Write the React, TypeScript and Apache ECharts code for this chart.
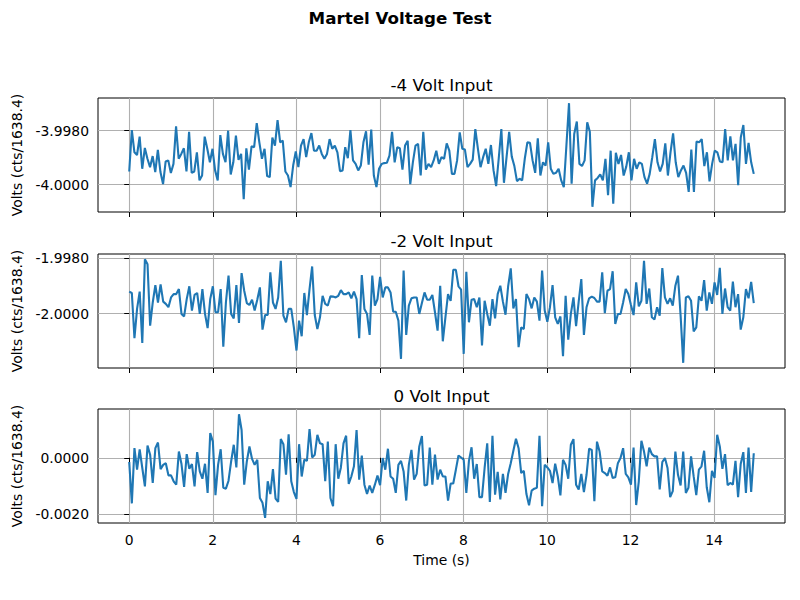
import React, { useEffect, useRef } from "react";
import * as echarts from "echarts";

// ---- data ----
const TIME_END = 14.95; // seconds, last sample
const X_TICKS = [0, 2, 4, 6, 8, 10, 12, 14];
const TITLES = ["-4 Volt Input", "-2 Volt Input", "0 Volt Input"];
const Y_TICKS_NEG4 = [-4.0, -3.998];
const Y_TICKS_NEG2 = [-2.0, -1.998];
const Y_TICKS_ZERO = [-0.002, 0.0];

const VOLTS_NEG4 = [
  -3.99951,-3.99798,-3.99880,-3.99890,-3.99822,-3.99941,-3.99864,-3.99904,-3.99935,-3.99894,
  -3.99953,-3.99871,-3.99953,-3.99998,-3.99914,-3.99910,-3.99957,-3.99923,-3.99784,-3.99904,
  -3.99886,-3.99865,-3.99951,-3.99804,-3.99956,-3.99951,-3.99880,-3.99984,-3.99966,-3.99822,
  -3.99867,-3.99917,-3.99867,-3.99947,-3.99984,-3.99816,-3.99886,-3.99917,-3.99800,-3.99962,
  -3.99917,-3.99818,-3.99908,-3.99886,-4.00054,-3.99865,-3.99944,-3.99858,-3.99861,-3.99772,
  -3.99843,-3.99904,-3.99867,-3.99968,-3.99972,-3.99825,-3.99855,-3.99761,-3.99843,-3.99837,
  -3.99951,-3.99966,-4.00009,-3.99929,-3.99877,-3.99935,-3.99855,-3.99831,-3.99898,-3.99843,
  -3.99809,-3.99874,-3.99874,-3.99855,-3.99886,-3.99904,-3.99886,-3.99831,-3.99867,
  -3.99855,-3.99880,-3.99950,-3.99947,-3.99861,-3.99902,-3.99798,-3.99910,-3.99923,-3.99947,
  -3.99929,-3.99843,-3.99802,-3.99926,-3.99796,-3.99966,-4.00009,-3.99941,-3.99923,-3.99920,
  -3.99919,-3.99892,-3.99804,-3.99917,-3.99861,-3.99865,-3.99944,-3.99855,-3.99837,-3.99998,
  -3.99917,-3.99855,-3.99849,-3.99966,-3.99804,-3.99944,-3.99923,-3.99935,-3.99910,-3.99874,
  -3.99923,-3.99898,-3.99904,-3.99847,-3.99874,-3.99960,-3.99960,-3.99910,-3.99806,-3.99867,
  -3.99870,-3.99935,-3.99923,-3.99907,-3.99794,-3.99867,-3.99935,-3.99898,-3.99867,-3.99923,
  -3.99853,-3.99947,-4.00005,-3.99902,-3.99794,-3.99993,-3.99898,-3.99804,-3.99896,-3.99931,
  -3.99987,-3.99978,-3.99984,-3.99904,-3.99843,-3.99845,-3.99910,-3.99956,-3.99828,
  -3.99966,-3.99917,-3.99929,-3.99843,-3.99941,-3.99960,-3.99956,-3.99941,-3.99984,-4.00009,
  -3.99855,-3.99698,-3.99996,-3.99812,-3.99766,-3.99923,-3.99931,-3.99910,-3.99769,-3.99804,
  -4.00082,-3.99984,-3.99975,-3.99962,-3.99984,-3.99904,-4.00039,-3.99874,-4.00070,-3.99882,
  -3.99923,-3.99890,-3.99966,-3.99933,-3.99880,-3.99984,-3.99904,-3.99941,-3.99917,-3.99923,
  -3.99972,-3.99996,-3.99960,-3.99898,-3.99831,-3.99917,-3.99951,-3.99923,-3.99847,-3.99966,
  -3.99880,-3.99810,-3.99917,-3.99972,-3.99947,-3.99929,-3.99956,-4.00027,-3.99870,-4.00027,
  -3.99840,-3.99843,-3.99831,-3.99931,-3.99880,-3.99988,-3.99923,-3.99874,-3.99880,-3.99914,
  -3.99917,-3.99794,-3.99910,-3.99821,-3.99910,-3.99849,-4.00002,-3.99825,-3.99779,-3.99923,
  -3.99845,-3.99917,-3.99960,
];

const VOLTS_NEG2 = [
  -1.99921,-1.99926,-2.00088,-1.99983,-1.99921,-2.00105,-1.99805,-1.99823,-2.00043,-1.99960,
  -1.99898,-1.99960,-1.99895,-1.99957,-1.99965,-1.99977,-1.99942,-1.99930,-1.99930,-1.99912,
  -2.00001,-2.00010,-1.99948,-1.99902,-1.99989,-1.99933,-1.99926,-2.00001,-1.99912,-2.00001,
  -2.00052,-1.99948,-1.99902,-1.99995,-1.99995,-1.99912,-2.00118,-1.99960,-1.99864,-2.00001,
  -2.00017,-1.99898,-2.00033,-1.99855,-1.99918,-1.99962,-1.99969,-1.99950,-1.99989,-1.99950,
  -1.99906,-2.00057,-2.00005,-2.00005,-1.99852,-1.99960,-1.99983,-1.99942,-1.99811,-2.00007,
  -2.00031,-1.99983,-1.99983,-2.00049,-2.00132,-2.00025,-2.00081,-1.99926,-2.00005,-1.99912,
  -1.99831,-2.00005,-2.00055,-2.00013,-1.99936,-1.99965,-1.99971,-1.99938,-1.99939,-1.99942,
  -1.99936,-1.99916,-1.99930,-1.99930,-1.99924,-1.99945,-1.99921,-1.99948,-2.00088,-1.99862,
  -1.99983,-2.00001,-2.00076,-1.99864,-1.99971,-1.99948,-1.99868,-1.99942,-1.99906,-1.99906,
  -1.99924,-1.99993,-1.99993,-2.00025,-2.00162,-1.99846,-2.00076,-1.99971,-1.99945,-1.99942,
  -1.99942,-2.00001,-1.99962,-1.99924,-1.99950,-1.99950,-1.99933,-1.99995,-2.00061,-1.99900,
  -2.00099,-2.00013,-1.99930,-1.99954,-1.99843,-1.99843,-1.99902,-1.99914,-2.00144,-1.99850,
  -2.00031,-1.99950,-1.99948,-1.99977,-1.99942,-2.00114,-1.99954,-2.00001,-2.00043,-1.99948,
  -2.00017,-1.99930,-1.99900,-1.99957,-2.00004,-1.99902,-1.99838,-1.99981,-1.99948,-2.00120,
  -2.00049,-2.00055,-1.99930,-1.99948,-1.99981,-1.99942,-1.99957,-2.00025,
  -1.99846,-1.99989,-2.00029,-1.99977,-1.99898,-2.00013,-2.00037,-2.00010,-2.00152,-1.99936,
  -2.00093,-2.00001,-1.99942,-2.00045,-1.99957,-1.99876,-2.00076,-1.99977,-1.99945,-1.99939,
  -1.99944,-1.99957,-1.99957,-1.99852,-1.99998,-1.99918,-1.99912,-1.99848,-2.00037,-2.00001,
  -2.00001,-1.99960,-1.99912,-1.99930,-1.99969,-2.00005,-1.99888,-1.99974,-1.99954,-1.99811,
  -1.99965,-1.99910,-2.00013,-2.00021,-1.99977,-2.00007,-1.99837,-1.99942,-1.99965,-1.99945,
  -1.99971,-1.99900,-1.99864,-2.00007,-2.00176,-1.99942,-1.99938,-1.99954,-2.00064,-2.00049,
  -1.99938,-1.99954,-1.99880,-1.99989,-1.99924,-1.99965,-1.99888,-1.99933,-1.99836,-2.00001,
  -1.99910,-1.99977,-1.99989,-1.99885,-1.99977,-1.99930,-2.00057,-2.00013,-1.99912,-1.99945,
  -1.99886,-1.99962,
];

const VOLTS_ZERO = [
  -0.00015,-0.00161,0.00034,-0.00042,0.00030,-0.00036,-0.00101,0.00043,0.00011,-0.00089,
  0.00034,0.00054,-0.00040,-0.00025,-0.00019,-0.00062,-0.00062,-0.00083,-0.00095,0.00022,
  -0.00022,-0.00103,0.00013,-0.00039,-0.00022,-0.00101,0.00020,-0.00048,-0.00074,-0.00021,
  -0.00124,0.00087,0.00057,-0.00132,-0.00025,0.00030,-0.00106,-0.00109,-0.00081,-0.00013,
  0.00046,-0.00034,0.00154,0.00098,-0.00095,-0.00013,0.00040,-0.00004,-0.00025,-0.00007,
  -0.00142,-0.00159,-0.00212,-0.00083,-0.00128,-0.00040,-0.00144,-0.00156,0.00066,0.00048,
  -0.00060,0.00083,-0.00083,-0.00121,-0.00145,0.00048,-0.00066,-0.00007,-0.00011,0.00101,
  0.00001,0.00011,0.00081,0.00051,0.00048,-0.00083,0.00057,-0.00142,-0.00171,
  0.00048,-0.00074,-0.00034,0.00051,0.00078,-0.00092,-0.00066,-0.00030,0.00098,-0.00077,
  0.00008,-0.00095,-0.00128,-0.00098,-0.00124,-0.00095,-0.00063,-0.00097,-0.00001,-0.00042,
  0.00032,-0.00066,-0.00074,-0.00124,-0.00025,-0.00011,-0.00048,-0.00151,-0.00025,0.00028,
  -0.00077,-0.00057,0.00040,0.00077,-0.00098,-0.00095,0.00036,-0.00095,0.00011,-0.00077,
  -0.00042,-0.00066,-0.00066,-0.00151,-0.00091,-0.00091,-0.00042,0.00008,0.00001,-0.00007,
  -0.00124,-0.00011,0.00037,-0.00074,-0.00022,-0.00139,-0.00139,-0.00036,0.00051,-0.00156,
  0.00078,-0.00130,-0.00050,-0.00147,-0.00057,-0.00124,-0.00057,-0.00019,0.00025,0.00067,
  0.00034,-0.00054,-0.00046,-0.00128,-0.00168,-0.00116,-0.00109,-0.00106,0.00078,
  -0.00171,-0.00025,-0.00034,-0.00046,-0.00089,-0.00021,-0.00066,-0.00133,-0.00007,-0.00025,
  -0.00074,0.00046,0.00066,-0.00095,-0.00112,-0.00057,-0.00121,-0.00060,0.00032,0.00028,
  -0.00153,0.00057,0.00022,-0.00048,-0.00054,-0.00063,-0.00034,-0.00071,-0.00069,-0.00019,
  -0.00001,0.00034,-0.00057,-0.00069,-0.00095,0.00036,-0.00167,-0.00083,0.00060,0.00022,
  -0.00030,0.00036,0.00013,0.00005,0.00005,-0.00112,-0.00015,-0.00001,-0.00036,-0.00139,
  -0.00118,0.00022,-0.00060,-0.00098,0.00022,-0.00124,-0.00106,0.00005,-0.00066,-0.00132,
  -0.00042,-0.00030,0.00025,-0.00104,-0.00157,-0.00046,-0.00071,0.00081,0.00040,-0.00039,
  0.00013,-0.00097,-0.00089,-0.00095,-0.00011,-0.00139,-0.00022,0.00020,-0.00124,0.00036,
  -0.00121,0.00016,
];

// ---- styling / layout ----
const FONT = "DejaVu Sans, sans-serif";
const LINE_COLOR = "#1f77b4";
const GRID_COLOR = "#b0b0b0";
const GRID_LEFT = 98;
const GRID_RIGHT = 15;
const GRID_HEIGHT = 114;
const GRID_TOPS = [98, 254, 409];
const TITLE_CENTER_X = 441.5;
const TITLE_YS = [85, 241, 396];

function withTime(values: number[]): number[][] {
  const n = values.length;
  return values.map((v, i) => [(i * TIME_END) / (n - 1), v]);
}

function paddedExtent(values: number[]): [number, number] {
  const lo = Math.min(...values);
  const hi = Math.max(...values);
  const pad = (hi - lo) * 0.05;
  return [lo - pad, hi + pad];
}

function xPadded(): [number, number] {
  const pad = TIME_END * 0.05;
  return [-pad, TIME_END + pad];
}

export default function App() {
  const ref = useRef<HTMLDivElement>(null);

  useEffect(() => {
    if (!ref.current) return;
    const chart = echarts.init(ref.current, undefined, { renderer: "svg" });
    const seriesValues = [VOLTS_NEG4, VOLTS_NEG2, VOLTS_ZERO];
    const yTicks = [Y_TICKS_NEG4, Y_TICKS_NEG2, Y_TICKS_ZERO];
    const [xMin, xMax] = xPadded();

    const grids = GRID_TOPS.map((top) => ({
      left: GRID_LEFT,
      right: GRID_RIGHT,
      top,
      height: GRID_HEIGHT,
      show: true,
      borderColor: "#000",
      borderWidth: 1,
      backgroundColor: "transparent",
      containLabel: false,
    }));

    const xAxes = GRID_TOPS.map((_, i) => ({
      type: "value",
      gridIndex: i,
      min: xMin,
      max: xMax,
      axisLine: { show: false },
      axisTick: {
        show: true,
        inside: false,
        length: 5,
        customValues: X_TICKS,
        lineStyle: { color: "#000", width: 1 },
      },
      axisLabel: {
        show: i === 2,
        customValues: X_TICKS,
        formatter: (v: number) => String(v),
        color: "#000",
        fontFamily: FONT,
        fontSize: 13.9,
        margin: 10,
      },
      splitLine: { show: true, lineStyle: { color: GRID_COLOR, width: 1.1 } },
      name: i === 2 ? "Time (s)" : "",
      nameLocation: "middle",
      nameGap: 30,
      nameTextStyle: { color: "#000", fontFamily: FONT, fontSize: 13.9 },
    }));

    const yAxes = GRID_TOPS.map((_, i) => {
      const [mn, mx] = paddedExtent(seriesValues[i]);
      return {
        type: "value",
        gridIndex: i,
        min: mn,
        max: mx,
        axisLine: { show: false },
        axisTick: {
          show: true,
          inside: false,
          length: 5,
          customValues: yTicks[i],
          lineStyle: { color: "#000", width: 1 },
        },
        axisLabel: {
          customValues: yTicks[i],
          formatter: (v: number) => (Math.abs(v) < 1e-12 ? 0 : v).toFixed(4),
          color: "#000",
          fontFamily: FONT,
          fontSize: 13.9,
          margin: 9,
        },
        splitLine: { show: true, lineStyle: { color: GRID_COLOR, width: 1.1 } },
        name: "Volts (cts/1638.4)",
        nameLocation: "middle",
        nameRotate: 90,
        nameGap: 60,
        nameTextStyle: { color: "#000", fontFamily: FONT, fontSize: 13.9 },
      };
    });

    const series = seriesValues.map((vals, i) => ({
      type: "line",
      xAxisIndex: i,
      yAxisIndex: i,
      data: withTime(vals),
      showSymbol: false,
      symbol: "none",
      lineStyle: { color: LINE_COLOR, width: 2.1 },
      clip: true,
    }));

    const graphic = [
      {
        type: "text",
        x: 400,
        y: 18,
        style: {
          text: "Martel Voltage Test",
          fill: "#000",
          font: `bold 16.7px ${FONT}`,
          textAlign: "center",
          textVerticalAlign: "middle",
        },
      },
      ...TITLES.map((t, i) => ({
        type: "text",
        x: TITLE_CENTER_X,
        y: TITLE_YS[i],
        style: {
          text: t,
          fill: "#000",
          font: `16.7px ${FONT}`,
          textAlign: "center",
          textVerticalAlign: "middle",
        },
      })),
    ];

    chart.setOption({
      animation: false,
      backgroundColor: "#fff",
      grid: grids,
      xAxis: xAxes,
      yAxis: yAxes,
      series,
      graphic,
    } as any);

    return () => chart.dispose();
  }, []);

  return (
    <div
      ref={ref}
      style={{ position: "fixed", left: 0, top: 0, width: 800, height: 600 }}
    />
  );
}
